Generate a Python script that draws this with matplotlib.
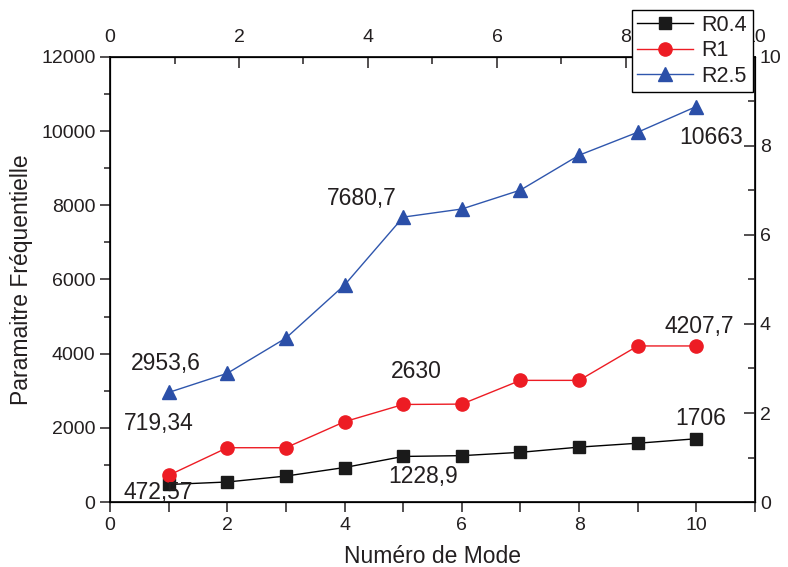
import numpy as np
import matplotlib
matplotlib.use('Agg')
import matplotlib.pyplot as plt
from matplotlib.ticker import MultipleLocator

plt.rcParams['font.family'] = ['Liberation Sans', 'DejaVu Sans']

# data
modes = [1, 2, 3, 4, 5, 6, 7, 8, 9, 10]
r04 = [472.57, 540, 700, 930, 1228.9, 1250, 1340, 1480, 1585, 1706]
r1 = [719.34, 1464, 1464, 2165, 2630, 2640, 3280, 3280, 4207.7, 4207.7]
r25 = [2953.6, 3470, 4420, 5850, 7680.7, 7900, 8410, 9350, 9970, 10663]
series_names = ['R0.4', 'R1', 'R2.5']

# annotations (texte, x, y)
labels = ['472,57', '719,34', '2953,6', '1228,9', '2630', '7680,7', '1706', '4207,7', '10663']
label_x = [0.83, 0.83, 0.95, 5.34, 5.22, 4.29, 10.07, 10.05, 10.26]
label_y = [270, 2130, 3747, 700, 3530, 8194, 2264, 4744, 9838]

txt_col = '#231f20'

fig = plt.figure(figsize=(7.88, 5.67), dpi=100)
ax = fig.add_axes([0.1396, 0.1146, 0.8185, 0.785])

l1, = ax.plot(modes, r04, '-s', color='#000000', mfc='#1a1a1a', mec='#1a1a1a', ms=8.5, lw=1)
l2, = ax.plot(modes, r1, '-o', color='#ed1c24', mfc='#ed1c24', mec='#ed1c24', ms=9.5, lw=1)
l3, = ax.plot(modes, r25, '-^', color='#2f56ad', mfc='#2b4fa8', mec='#2b4fa8', ms=9.5, lw=1)

for t, x, y in zip(labels, label_x, label_y):
    ax.text(x, y, t, fontsize=16.5, color=txt_col, ha='center', va='center')

ax.set_xlim(0, 11)
ax.set_ylim(0, 12000)
ax.xaxis.set_major_locator(MultipleLocator(2))
ax.xaxis.set_minor_locator(MultipleLocator(1))
ax.yaxis.set_major_locator(MultipleLocator(2000))
ax.yaxis.set_minor_locator(MultipleLocator(1000))
ax.tick_params(which='both', direction='out', labelsize=14, colors=txt_col, width=1.1)
ax.tick_params(axis='y', which='major', length=7)
ax.tick_params(axis='y', which='minor', length=4)
ax.tick_params(axis='x', which='both', length=7)
ax.set_xlabel('Numéro de Mode', fontsize=16.5, color=txt_col, labelpad=8)
ax.set_ylabel('Paramaitre Fréquentielle', fontsize=16.5, color=txt_col, labelpad=6)
for s in ax.spines.values():
    s.set_linewidth(1.2)

# axe de droite
ax2 = ax.twinx()
ax2.set_ylim(0, 10)
ax2.yaxis.set_major_locator(MultipleLocator(2))
ax2.yaxis.set_minor_locator(MultipleLocator(1))
ax2.tick_params(which='both', direction='in', labelsize=14, colors=txt_col, width=1.1)
ax2.tick_params(which='major', length=8)
ax2.tick_params(which='minor', length=5)

# axe du haut
ax3 = ax.twiny()
ax3.set_xlim(0, 10)
ax3.xaxis.set_major_locator(MultipleLocator(2))
ax3.xaxis.set_minor_locator(MultipleLocator(1))
ax3.tick_params(which='both', direction='in', labelsize=14, colors=txt_col, width=1.1, pad=8)
ax3.tick_params(which='major', length=8)
ax3.tick_params(which='minor', length=5)

leg = fig.legend([l1, l2, l3], series_names, loc='upper right',
                 bbox_to_anchor=(0.955, 0.983), borderaxespad=0,
                 fontsize=15.5, fancybox=False, edgecolor='black',
                 framealpha=1, handlelength=2.6, labelspacing=0.2,
                 borderpad=0.25, handletextpad=0.4)
leg.get_frame().set_linewidth(1)
for t in leg.get_texts():
    t.set_color(txt_col)

fig.savefig('out.png', dpi=100)
